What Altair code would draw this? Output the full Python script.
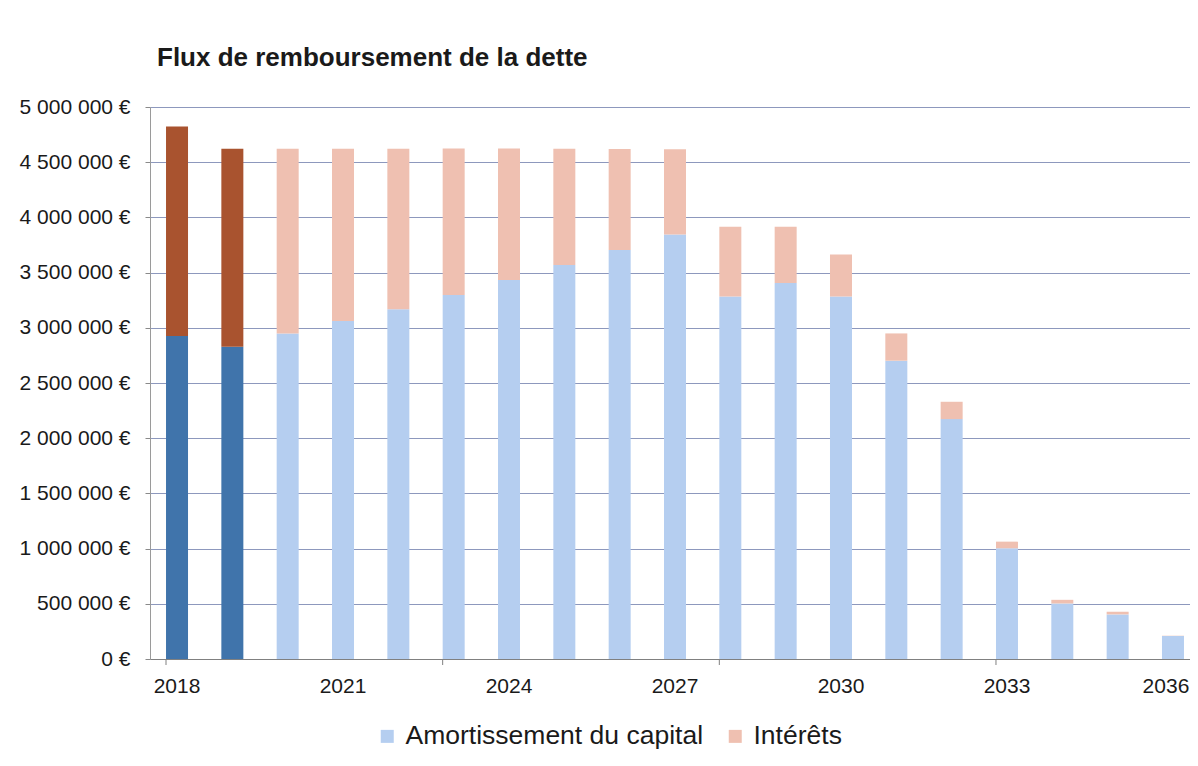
import altair as alt
import pandas as pd

years = [str(y) for y in range(2018, 2037)]
capital = [2925000, 2828000, 2949000, 3061000, 3167000, 3296000, 3433000, 3569000,
           3705000, 3845000, 3284000, 3406000, 3284000, 2702000, 2173000, 1003000,
           503000, 404000, 208000]
interets = [1899000, 1794000, 1673000, 1561000, 1455000, 1329000, 1192000, 1053000,
            915000, 773000, 631000, 509000, 380000, 247000, 157000, 60000,
            33000, 24000, 3000]
realise_years = ["2018", "2019"]
label_years = ["2018", "2021", "2024", "2027", "2030", "2033", "2036"]
tick_years = ["2018", "2023", "2028", "2033"]

CAP = "Amortissement du capital"
INT = "Intérêts"
CAP_R = "Amortissement du capital (réalisé)"
INT_R = "Intérêts (réalisé)"

rows = []
for y, c, i in zip(years, capital, interets):
    done = y in realise_years
    rows.append({"year": y, "value": c, "serie": CAP_R if done else CAP, "ord": 0})
    rows.append({"year": y, "value": i, "serie": INT_R if done else INT, "ord": 1})
df = pd.DataFrame(rows)
ticks_df = pd.DataFrame({"year": tick_years})

FONT = "Liberation Sans"
W, H = 1040, 552

xscale = alt.Scale(domain=years, paddingInner=0.602, paddingOuter=0.199, align=0.727)

bars = alt.Chart(df).mark_bar(size=22).encode(
    x=alt.X("year:O", scale=xscale, title=None,
            axis=alt.Axis(values=label_years, labelAngle=0, ticks=False,
                          labelPadding=16, labelFontSize=21, labelFont=FONT,
                          labelColor="#1a1a1a", domainColor="#808080", grid=False,
                          labelOffset={"condition": {"test": "datum.label == '2036'",
                                                     "value": -7},
                                       "value": 0})),
    y=alt.Y("value:Q", stack="zero", title=None,
            scale=alt.Scale(domain=[0, 5000000], nice=False),
            axis=alt.Axis(values=list(range(0, 5000001, 500000)),
                          labelExpr="replace(format(datum.value, ',d'), /,/g, ' ') + ' €'",
                          labelFontSize=21, labelFont=FONT, labelColor="#1a1a1a",
                          labelPadding=15, tickSize=5, tickColor="#8a8a8a",
                          domainColor="#9a9a9a", gridColor="#8d98bd", gridOpacity=1)),
    color=alt.Color("serie:N",
                    scale=alt.Scale(domain=[CAP, INT, CAP_R, INT_R],
                                    range=["#b5cef0", "#efc0b1", "#4074ab", "#a9532f"]),
                    legend=alt.Legend(values=[CAP, INT], title=None, orient="none",
                                      legendX=224, legendY=616, direction="horizontal",
                                      columns=2, columnPadding=18,
                                      symbolType="square", symbolSize=169,
                                      symbolStrokeWidth=0, labelFontSize=26.5,
                                      labelFont=FONT, labelColor="#1a1a1a",
                                      labelOffset=5, labelLimit=0)),
    order=alt.Order("ord:Q"),
)

xticks = alt.Chart(ticks_df).mark_rule(color="#808080", strokeWidth=1).encode(
    x=alt.X("year:O", scale=xscale, bandPosition=0),
    y=alt.value(H),
    y2=alt.value(H + 6),
)

chart = alt.layer(bars, xticks).properties(
    width=W,
    height=H,
    title=alt.TitleParams("Flux de remboursement de la dette", anchor="start",
                          fontSize=26, fontWeight="bold", font=FONT, color="#1a1a1a",
                          dx=7, offset=25, frame="group"),
    padding={"left": 142, "top": 99, "right": 0, "bottom": 95},
    autosize=alt.AutoSizeParams(type="none"),
).configure_view(stroke=None).configure(background="white")

chart.save("out.html", embed_options={"renderer": "svg", "actions": False})
